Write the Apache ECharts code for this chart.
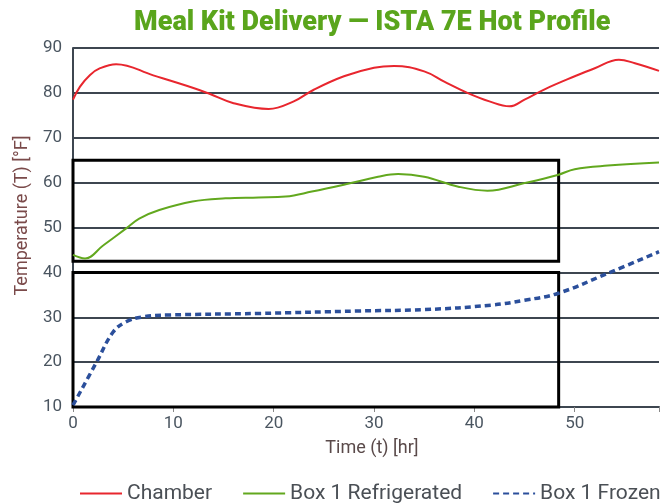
<!DOCTYPE html>
<html>
<head>
<meta charset="utf-8">
<script src="https://cdn.jsdelivr.net/npm/echarts@6/dist/echarts.min.js"></script>
<style>html,body{margin:0;padding:0;background:#fff}#c{width:662px;height:504px}</style>
</head>
<body>
<div id="c"></div>
<script>
const titleText = 'Meal Kit Delivery — ISTA 7E Hot Profile';
const seriesNames = ['Chamber', 'Box 1 Refrigerated', 'Box 1 Frozen'];
const xName = 'Time (t) [hr]';
const yName = 'Temperature (T) [°F]';

const chamberT = [0,0.7,1.7,2.7,4.3,8,12,13.6,16,19.5,22,24,27,30,32,35,37,39.3,41.5,43.5,45,47,50,52,54.4,56,58.4];
const chamberV = [78.5,81.4,84.0,85.5,86.4,83.9,81.1,79.8,77.7,76.4,78.1,80.7,83.7,85.6,86.0,84.8,82.5,80,78.1,77.0,78.5,80.8,83.7,85.5,87.4,86.6,84.9];

const refT = [0,1.2,3,5.3,6.6,8.6,11.9,15.2,18.5,21.2,23.8,27.5,30.4,32.4,35,38.4,41.3,45,48.3,50,53.3,58.4];
const refV = [43.9,43.1,46,49.8,52.0,53.9,55.8,56.5,56.7,56.9,58.0,59.8,61.3,61.9,61.3,59.1,58.2,59.9,61.7,63.0,63.8,64.5];

const frozenT = [0,2.35,4,5.3,7,9.6,18.5,28.4,35,41.7,45,48.3,53.3,58.4];
const frozenV = [10.4,20,26.7,29,30.1,30.5,30.85,31.4,31.7,32.7,33.8,35.3,39.8,44.6];

// limit boxes: [tStart, tEnd, Tlow, Thigh]
const refBox = [0, 48.4, 42.5, 65];
const frozenBox = [0, 48.4, 10, 40];

const xMin = 0, xMax = 58.4, xInterval = 10;
const yMin = 10, yMax = 90, yInterval = 10;

function pairs(t, v) { return t.map((x, i) => [x, v[i]]); }

const chart = echarts.init(document.getElementById('c'));
chart.setOption({
  animation: false,
  title: {
    text: titleText,
    left: 129, top: 5,
    textStyle: { color: '#5aa51c', fontSize: 27, fontWeight: 900, fontFamily: 'Roboto' }
  },
  legend: {
    data: seriesNames,
    left: 74, top: 478, width: 900,
    itemWidth: 42, itemHeight: 6, itemGap: 30,
    itemStyle: { opacity: 0 },
    textStyle: { color: '#4a4f55', fontSize: 21, fontFamily: 'Roboto' }
  },
  grid: { left: 73, right: 0, top: 48, bottom: 97 },
  xAxis: {
    type: 'value', min: xMin, max: xMax, interval: xInterval,
    name: xName, nameLocation: 'middle', nameGap: 32,
    nameTextStyle: { color: '#5a4a4a', fontSize: 18, fontFamily: 'Roboto', padding: [0, 0, 0, 12] },
    axisLine: { lineStyle: { color: '#3d4650', width: 2 } },
    axisTick: { show: true, length: 5, lineStyle: { color: '#888' } },
    axisLabel: { color: '#4a5560', fontSize: 17, fontFamily: 'Roboto', margin: 8,
      formatter: v => (Math.abs(v % 10) < 1e-9 ? String(v) : '') },
    splitLine: { show: false }
  },
  yAxis: {
    type: 'value', min: yMin, max: yMax, interval: yInterval,
    name: yName, nameLocation: 'middle', nameGap: 42,
    nameTextStyle: { color: '#7a4a4a', fontSize: 18, fontFamily: 'Roboto', padding: [0, 0, 0, 24] },
    axisLine: { show: true, lineStyle: { color: '#3d4650', width: 2 } },
    axisTick: { show: false },
    axisLabel: { color: '#4a5560', fontSize: 17, fontFamily: 'Roboto', margin: 11 },
    splitLine: { show: true, lineStyle: { color: '#3d4650', width: 2 } }
  },
  series: [
    {
      name: seriesNames[0], type: 'line', smooth: 0.4, symbol: 'none',
      data: pairs(chamberT, chamberV),
      lineStyle: { color: '#e8262e', width: 2 }, itemStyle: { color: '#e8262e' },
      markArea: {
        silent: true,
        itemStyle: { color: 'rgba(0,0,0,0)', borderColor: '#000', borderWidth: 3 },
        data: [
          [{ coord: [refBox[0], refBox[3]] }, { coord: [refBox[1], refBox[2]] }],
          [{ coord: [frozenBox[0], frozenBox[3]] }, { coord: [frozenBox[1], frozenBox[2]] }]
        ]
      }
    },
    {
      name: seriesNames[1], type: 'line', smooth: 0.4, symbol: 'none',
      data: pairs(refT, refV),
      lineStyle: { color: '#62a81e', width: 2 }, itemStyle: { color: '#62a81e' }
    },
    {
      name: seriesNames[2], type: 'line', smooth: 0.4, symbol: 'none',
      data: pairs(frozenT, frozenV),
      lineStyle: { color: '#2b4f9b', width: 3.5, type: [6, 4] }, itemStyle: { color: '#2b4f9b' }
    }
  ]
});
</script>
</body>
</html>
